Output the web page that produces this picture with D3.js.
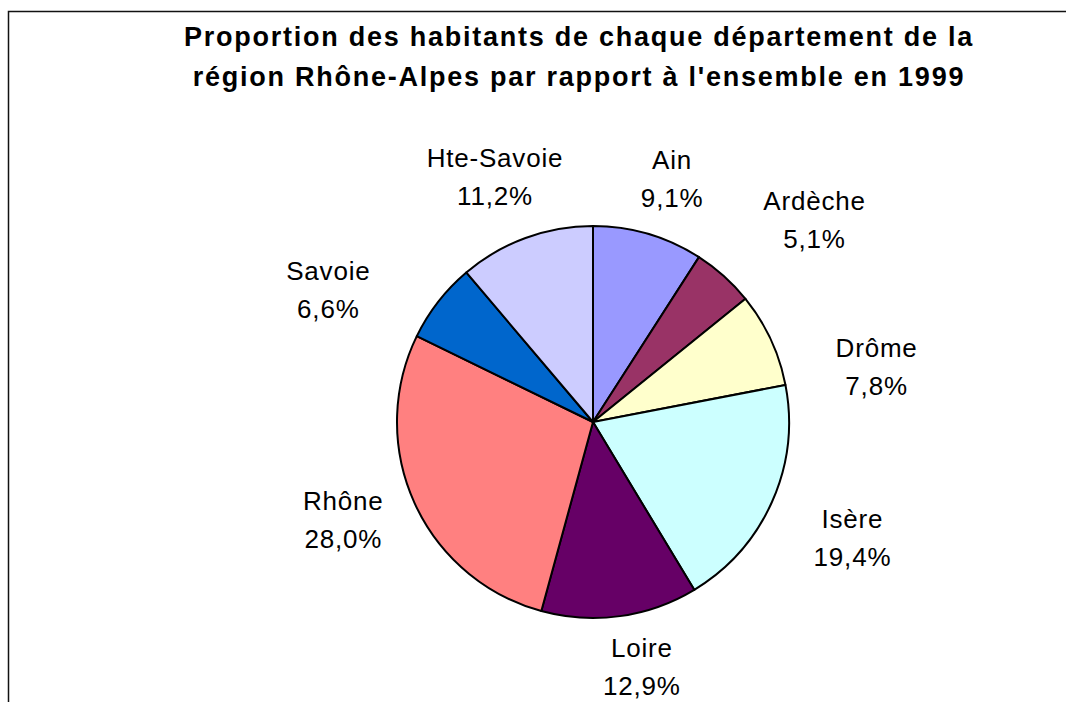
<!DOCTYPE html>
<html>
<head>
<meta charset="utf-8">
<script src="https://cdn.jsdelivr.net/npm/d3@7"></script>
<style>
  html, body { margin: 0; padding: 0; background: #fff; }
  svg { display: block; }
</style>
</head>
<body>
<svg id="chart" width="1066" height="702"></svg>
<script>
// departements de Rhone-Alpes, part de la population en 1999 (%)
const departements = ['Ain', 'Ardèche', 'Drôme', 'Isère', 'Loire', 'Rhône', 'Savoie', 'Hte-Savoie'];
const parts = [9.1, 5.1, 7.8, 19.4, 12.9, 28.0, 6.6, 11.2];
const couleurs = ['#9999ff', '#993366', '#ffffcc', '#ccffff', '#660066', '#ff8080', '#0066cc', '#ccccff'];
const titre = [
  'Proportion des habitants de chaque département de la',
  "région Rhône-Alpes par rapport à l'ensemble en 1999"
];

// label placement (angle in degrees from 12 o'clock, distance from centre), as set in the original sheet
const labelPolar = [[18, 256], [47.6, 300], [78.9, 289], [114, 284], [168.7, 249], [248.7, 268], [296.6, 296], [338.2, 264]];

const svg = d3.select('#chart');
const cx = 593;
const cy = 422;
const radius = 196;

// chart area border (runs off the right and bottom of the picture)
svg.append('rect')
  .attr('x', 8.5)
  .attr('y', 11.5)
  .attr('width', 1200)
  .attr('height', 900)
  .attr('fill', '#fff')
  .attr('stroke', '#111')
  .attr('stroke-width', 1.5);

// title
svg.append('text')
  .attr('x', 579)
  .attr('text-anchor', 'middle')
  .attr('font-family', 'Liberation Sans, Arial, sans-serif')
  .attr('font-weight', 'bold')
  .attr('font-size', 27)
  .attr('letter-spacing', 1.75)
  .selectAll('tspan')
  .data(titre)
  .join('tspan')
  .attr('x', 579)
  .attr('y', (d, i) => 46 + i * 40)
  .text(d => d);

const pie = d3.pie().sort(null).value(d => d);
const arcs = pie(parts);
const arc = d3.arc().innerRadius(0).outerRadius(radius);

const g = svg.append('g').attr('transform', `translate(${cx},${cy})`);

g.selectAll('path')
  .data(arcs)
  .join('path')
  .attr('d', arc)
  .attr('fill', (d, i) => couleurs[i])
  .attr('stroke', '#000')
  .attr('stroke-width', 2)
  .attr('stroke-linejoin', 'round');

const fmt = v => d3.format('.1f')(v).replace('.', ',') + '%';

const labels = g.selectAll('text.label')
  .data(arcs)
  .join('text')
  .attr('class', 'label')
  .attr('text-anchor', 'middle')
  .attr('font-family', 'Liberation Sans, Arial, sans-serif')
  .attr('font-size', 26)
  .attr('letter-spacing', 0.8)
  .attr('fill', '#000')
  .attr('transform', (d, i) => {
    const [a, r] = labelPolar[i];
    const p = d3.pointRadial(a * Math.PI / 180, r);
    return `translate(${p[0]},${p[1]})`;
  });

labels.append('tspan').attr('x', 0).attr('y', -9.5).text((d, i) => departements[i]);
labels.append('tspan').attr('x', 0).attr('y', 28.5).text(d => fmt(d.data));
</script>
</body>
</html>
